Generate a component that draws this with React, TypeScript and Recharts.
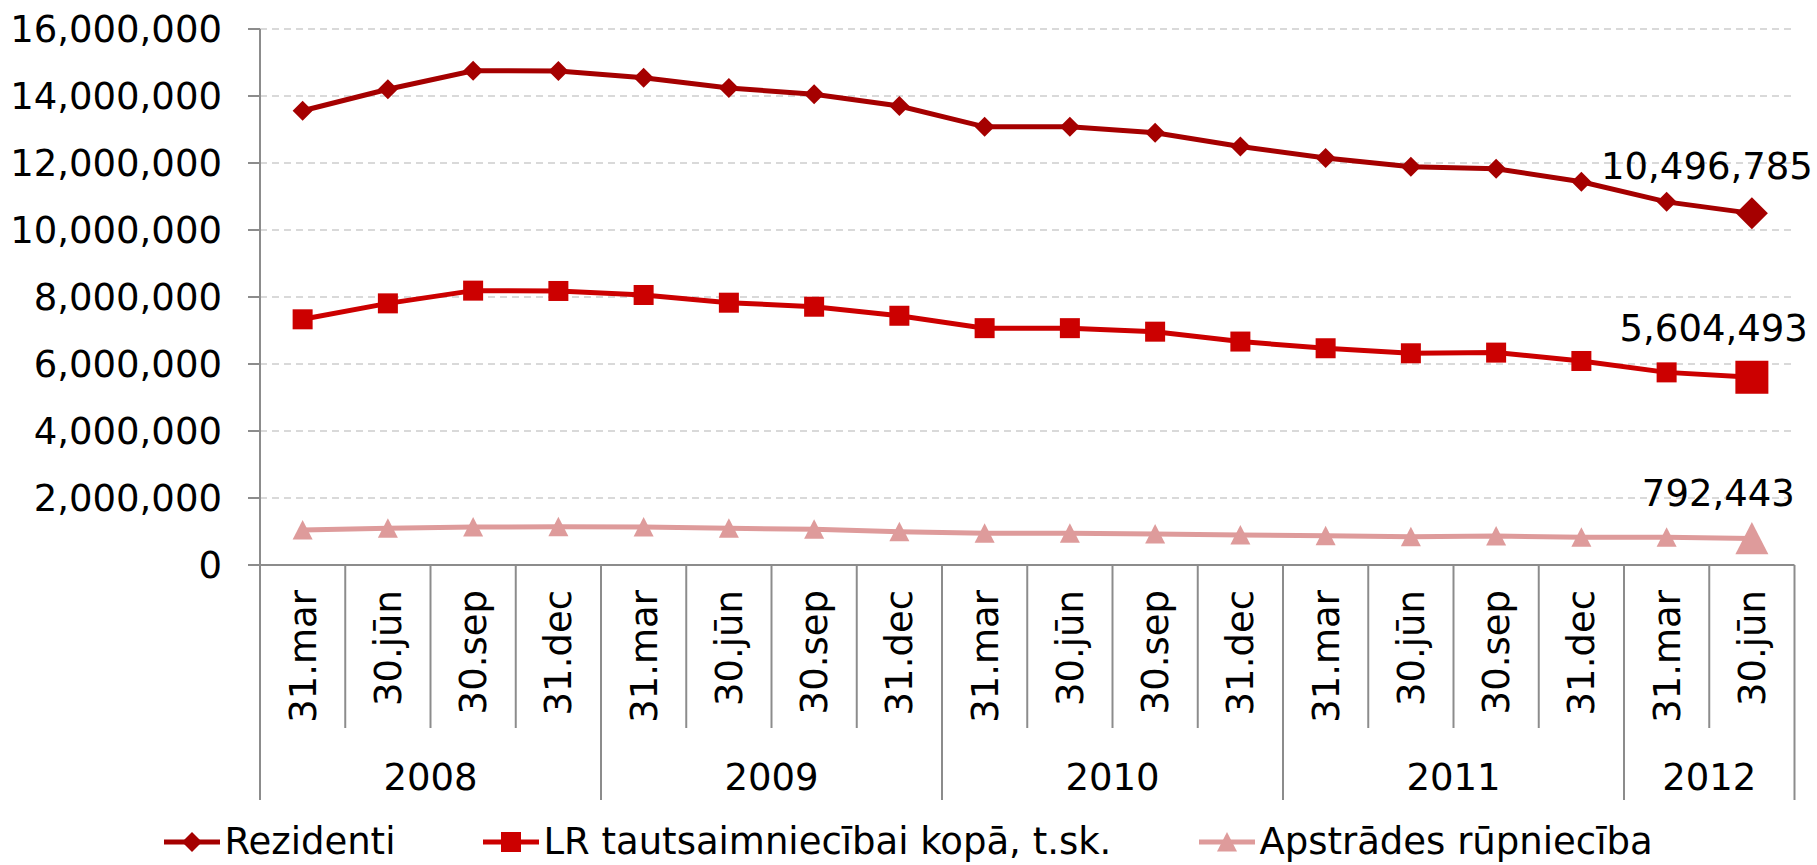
import React from 'react';
import { LineChart, Line, XAxis, YAxis, CartesianGrid, Legend, LabelList } from 'recharts';

const months = ['31.mar', '30.jūn', '30.sep', '31.dec', '31.mar', '30.jūn', '30.sep', '31.dec', '31.mar', '30.jūn', '30.sep', '31.dec', '31.mar', '30.jūn', '30.sep', '31.dec', '31.mar', '30.jūn'];
const years = ['2008', '2008', '2008', '2008', '2009', '2009', '2009', '2009', '2010', '2010', '2010', '2010', '2011', '2011', '2011', '2011', '2012', '2012'];
const rezidenti = [13560000, 14200000, 14755000, 14745000, 14546000, 14240000, 14050000, 13700000, 13080000, 13085000, 12900000, 12490000, 12150000, 11890000, 11830000, 11440000, 10840000, 10496785];
const lrKopa = [7334000, 7810000, 8190000, 8180000, 8060000, 7830000, 7710000, 7440000, 7070000, 7070000, 6965000, 6670000, 6470000, 6320000, 6340000, 6090000, 5750000, 5604493];
const apstrades = [1045000, 1095000, 1134000, 1143000, 1134000, 1095000, 1065000, 995000, 945000, 945000, 925000, 896000, 875000, 846000, 866000, 826000, 826000, 792443];
const yTicks = [0, 2000000, 4000000, 6000000, 8000000, 10000000, 12000000, 14000000, 16000000];
const seriesNames = ['Rezidenti', 'LR tautsaimniecībai kopā, t.sk.', 'Apstrādes rūpniecība'];

const data = months.map((m, i) => ({
  key: `${years[i]} ${m}`,
  rezidenti: rezidenti[i],
  lrKopa: lrKopa[i],
  apstrades: apstrades[i],
}));

const W = 1817;
const H = 865;
const TOP = 29;
const LEFT = 260;
const RIGHT_M = 22.5;
const PLOT_W = W - LEFT - RIGHT_M;
const BAND = PLOT_W / months.length;
const LAST = months.length - 1;
const FONT = "'DejaVu Sans', Verdana, sans-serif";
const AXIS_C = '#8c8c8c';
const LEGEND_H = 60;

const fmt = (v: number) => v.toLocaleString('en-US');

type ShapeKind = 'diamond' | 'square' | 'triangle';

const Shape = ({ kind, cx, cy, s, color }: { kind: ShapeKind; cx: number; cy: number; s: number; color: string }) => {
  if (kind === 'diamond') {
    return <polygon points={`${cx},${cy - s} ${cx + s},${cy} ${cx},${cy + s} ${cx - s},${cy}`} fill={color} />;
  }
  if (kind === 'square') {
    return <rect x={cx - s} y={cy - s} width={2 * s} height={2 * s} fill={color} />;
  }
  return <polygon points={`${cx},${cy - s} ${cx + s},${cy + s * 0.95} ${cx - s},${cy + s * 0.95}`} fill={color} />;
};

const series = [
  { key: 'rezidenti', name: seriesNames[0], color: '#a50000', kind: 'diamond' as ShapeKind, s: 10, sLast: 16, dx: 61, dy: -34 },
  { key: 'lrKopa', name: seriesNames[1], color: '#cc0000', kind: 'square' as ShapeKind, s: 10, sLast: 16.5, dx: 56, dy: -36 },
  { key: 'apstrades', name: seriesNames[2], color: '#de9b9b', kind: 'triangle' as ShapeKind, s: 10, sLast: 16.5, dx: 43, dy: -32 },
];

const XTick = (props: any) => {
  const { x, y, index } = props;
  const start = index === 0 || years[index] !== years[index - 1];
  let end = index;
  while (end + 1 < years.length && years[end + 1] === years[index]) end++;
  const left = x - BAND / 2;
  return (
    <g>
      <line x1={left} x2={left} y1={y} y2={y + (start ? 235 : 163)} stroke={AXIS_C} strokeWidth={2} />
      {index === LAST && (
        <line x1={x + BAND / 2} x2={x + BAND / 2} y1={y} y2={y + 235} stroke={AXIS_C} strokeWidth={2} />
      )}
      <text
        transform={`translate(${x},${y + 25}) rotate(-90)`}
        textAnchor="end"
        dy="0.35em"
        fontSize={37}
        fontFamily={FONT}
        fill="#000"
      >
        {months[index]}
      </text>
      {start && (
        <text
          x={left + ((end - index + 1) * BAND) / 2}
          y={y + 212}
          dy="0.35em"
          textAnchor="middle"
          fontSize={37}
          fontFamily={FONT}
          fill="#000"
        >
          {years[index]}
        </text>
      )}
    </g>
  );
};

const makeDot = (s: (typeof series)[number]) => (p: any) => {
  const { cx, cy, index } = p;
  if (cx == null || cy == null) return <g key={`d-${s.key}-${index}`} />;
  return (
    <g key={`d-${s.key}-${index}`}>
      <Shape kind={s.kind} cx={cx} cy={cy} s={index === LAST ? s.sLast : s.s} color={s.color} />
    </g>
  );
};

const makeLabel = (s: (typeof series)[number], lastVal: number) => (p: any) => {
  const { x, y, value, index } = p;
  if (!(index === LAST || value === lastVal)) return null;
  return (
    <text x={x + s.dx} y={y + s.dy} textAnchor="end" fontSize={37} fontFamily={FONT} fill="#000">
      {fmt(value)}
    </text>
  );
};

const LegendContent = () => (
  <div
    style={{
      display: 'flex',
      justifyContent: 'center',
      alignItems: 'center',
      gap: 88,
      height: LEGEND_H,
      fontFamily: FONT,
      fontSize: 37,
      color: '#000',
      whiteSpace: 'nowrap',
    }}
  >
    {series.map((s) => (
      <div key={s.key} style={{ display: 'flex', alignItems: 'center', gap: 4 }}>
        <svg width={56} height={30} style={{ display: 'block' }}>
          <line x1={0} x2={56} y1={15} y2={15} stroke={s.color} strokeWidth={5} />
          <Shape kind={s.kind} cx={28} cy={15} s={10} color={s.color} />
        </svg>
        <span style={{ lineHeight: `${LEGEND_H}px` }}>{s.name}</span>
      </div>
    ))}
  </div>
);

export default function App() {
  const lastVals = [rezidenti[LAST], lrKopa[LAST], apstrades[LAST]];
  return (
    <div style={{ position: 'absolute', left: 0, top: 0, width: W, height: H, background: '#fff' }}>
      <LineChart width={W} height={H} data={data} margin={{ top: TOP, right: RIGHT_M, left: 0, bottom: 0 }}>
        <CartesianGrid vertical={false} stroke="#d9d9d9" strokeWidth={2} strokeDasharray="7 5" />
        <XAxis
          dataKey="key"
          interval={0}
          height={240}
          padding={{ left: BAND / 2, right: BAND / 2 }}
          tickLine={false}
          tickSize={0}
          tickMargin={0}
          axisLine={{ stroke: AXIS_C, strokeWidth: 2 }}
          tick={<XTick />}
        />
        <YAxis
          width={LEFT}
          domain={[0, 16000000]}
          ticks={yTicks}
          interval={0}
          tickFormatter={fmt}
          tickSize={12}
          tickMargin={26}
          tickLine={{ stroke: AXIS_C, strokeWidth: 2 }}
          axisLine={{ stroke: AXIS_C, strokeWidth: 2 }}
          tick={{ fontSize: 37, fill: '#000', fontFamily: FONT }}
        />
        <Legend
          verticalAlign="bottom"
          height={LEGEND_H}
          wrapperStyle={{ top: 812, left: 0, width: W, height: LEGEND_H }}
          content={() => <LegendContent />}
        />
        {series.map((s, i) => (
          <Line
            key={s.key}
            dataKey={s.key}
            name={s.name}
            stroke={s.color}
            strokeWidth={5}
            isAnimationActive={false}
            dot={makeDot(s)}
            activeDot={false}
          >
            <LabelList dataKey={s.key} content={makeLabel(s, lastVals[i])} />
          </Line>
        ))}
      </LineChart>
    </div>
  );
}
